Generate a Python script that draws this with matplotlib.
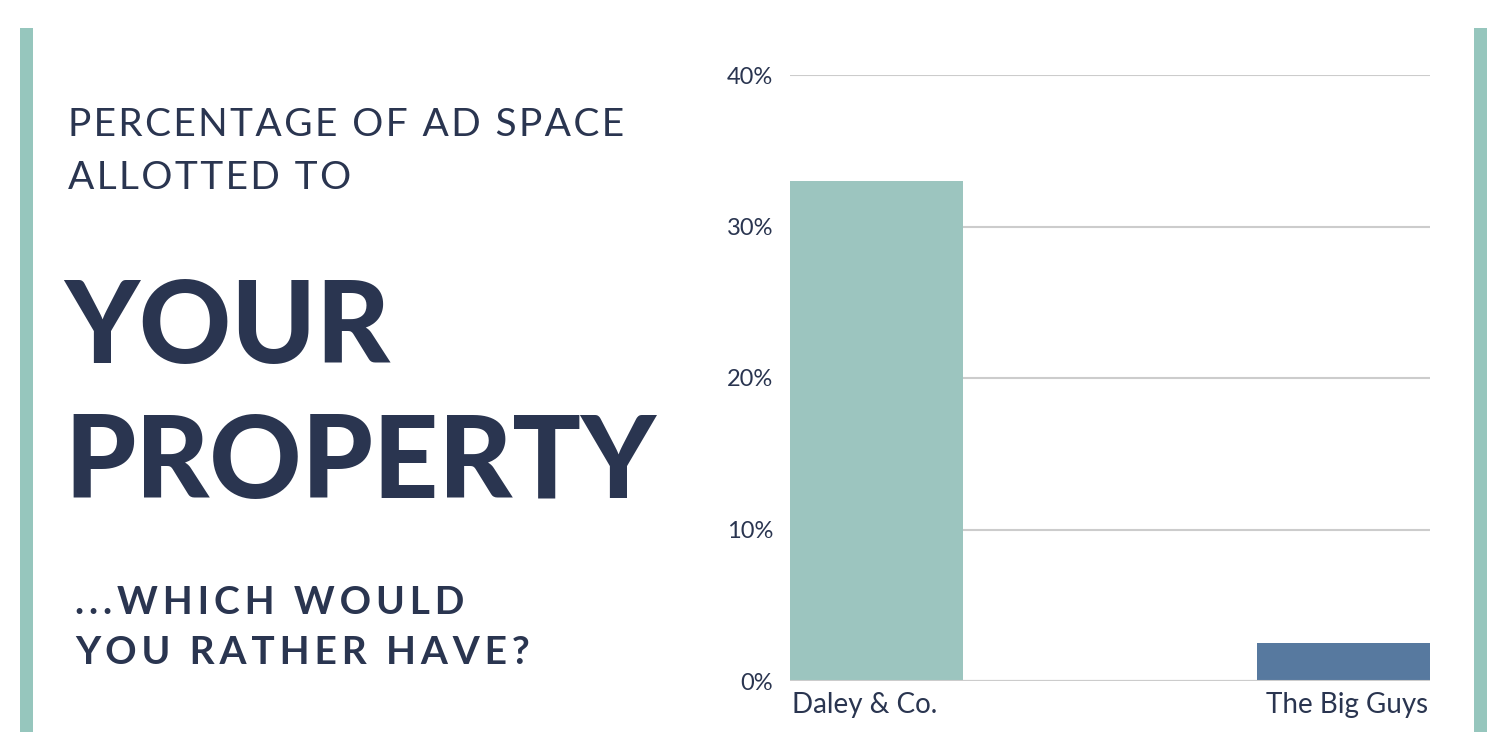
import matplotlib.pyplot as plt
from matplotlib.patches import Rectangle

categories = ['Daley & Co.', 'The Big Guys']
values = [33.0, 2.5]
bar_colors = ['#9cc5bf', '#57799f']
yticks = [0, 10, 20, 30, 40]

navy = '#2a3550'
teal = '#96c6bd'
fam = ['Lato', 'DejaVu Sans']


def spaced(s, gap='\u200a'):
    return gap.join(s)


fig = plt.figure(figsize=(15, 7.5), dpi=100)
fig.patch.set_facecolor('white')

# side accent strips
for x0 in (20 / 1500, 1474 / 1500):
    fig.add_artist(Rectangle((x0, 18 / 750), 13 / 1500, 704 / 750,
                             transform=fig.transFigure, color=teal, lw=0))

ax = fig.add_axes([790 / 1500, 69 / 750, 640 / 1500, 606 / 750])
pos = list(range(len(categories)))
ax.bar(pos, values, width=0.37, color=bar_colors, zorder=3)
ax.set_xlim(-0.185, 1.185)
ax.set_ylim(0, 40)
ax.set_yticks(yticks)
ax.set_yticklabels([f'{v}%' for v in yticks], fontsize=17, color=navy, family='Lato')
ax.yaxis.grid(True, color='#cccccc', lw=1.5, zorder=0)
ax.tick_params(length=0, pad=12)
ax.set_xticks([])
for s in ax.spines.values():
    s.set_visible(False)
ax.axhline(0, color='#cccccc', lw=1.5, zorder=4)
ax.text(-0.18, -0.7, categories[0], ha='left', va='top', fontsize=20, color=navy, family='Lato')
ax.text(1.18, -0.7, categories[1], ha='right', va='top', fontsize=20, color=navy, family='Lato')

fig.text(68 / 1500, 1 - 125 / 750, spaced('PERCENTAGE OF AD SPACE'),
         fontsize=28, color=navy, family=fam, va='center')
fig.text(68 / 1500, 1 - 178 / 750, spaced('ALLOTTED TO'), fontsize=28, color=navy,
         family=fam, va='center')
fig.text(64 / 1500, 1 - 330 / 750, 'YOUR', fontsize=82, color=navy, family='Lato',
         weight='black', va='center')
fig.text(64 / 1500, 1 - 465 / 750, 'PROPERTY', fontsize=82, color=navy, family='Lato',
         weight='black', va='center')
fig.text(75 / 1500, 1 - 602 / 750, spaced('...WHICH WOULD', '\u2009'), fontsize=28,
         color=navy, family=fam, weight='bold', va='center')
fig.text(75 / 1500, 1 - 652 / 750, spaced('YOU RATHER HAVE?', '\u2009'), fontsize=28,
         color=navy, family=fam, weight='bold', va='center')

fig.savefig('out.png', dpi=100)
